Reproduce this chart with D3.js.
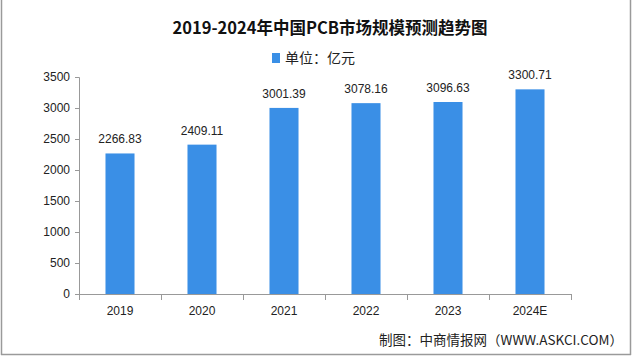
<!DOCTYPE html>
<html>
<head>
<meta charset="utf-8">
<script src="https://cdn.jsdelivr.net/npm/d3@7/dist/d3.min.js"></script>
<style>
  html, body { margin: 0; padding: 0; background: #fff; }
  svg { display: block; }
</style>
</head>
<body>
<svg id="chart" width="640" height="357"></svg>
<script>
const categories = ["2019", "2020", "2021", "2022", "2023", "2024E"];
const values = [2266.83, 2409.11, 3001.39, 3078.16, 3096.63, 3300.71];
const yTicks = [0, 500, 1000, 1500, 2000, 2500, 3000, 3500];
const titleText = "2019-2024年中国PCB市场规模预测趋势图";
const legendText = "单位：亿元";
const sourceText = "制图：中商情报网（WWW.ASKCI.COM）";

const svg = d3.select("#chart");
const barColor = "#3a8fe6";
const axisColor = "#999";
const cjk = "'Noto Sans CJK SC', 'Noto Sans', sans-serif";
const latin = "'Liberation Sans', Arial, sans-serif";

const plotL = 79, plotR = 571, plotT = 77, plotB = 294;

const x = d3.scaleBand().domain(categories).range([plotL, plotR]).padding(0);
const y = d3.scaleLinear().domain([0, 3500]).range([plotB, plotT]);
const barW = x.bandwidth() * 0.354;

// frame
svg.append("line").attr("x1", 1.5).attr("x2", 1.5).attr("y1", 0).attr("y2", 355)
  .attr("stroke", "#9a9a9a").attr("stroke-width", 1.5);
svg.append("line").attr("x1", 630.5).attr("x2", 630.5).attr("y1", 0).attr("y2", 355)
  .attr("stroke", "#9a9a9a").attr("stroke-width", 1.5);
svg.append("line").attr("x1", 1).attr("x2", 631).attr("y1", 354.5).attr("y2", 354.5)
  .attr("stroke", "#9a9a9a").attr("stroke-width", 1.5);

// title
svg.append("text").attr("x", 330).attr("y", 34).attr("text-anchor", "middle")
  .attr("font-family", cjk).attr("font-weight", "bold").attr("font-size", 16.5)
  .attr("fill", "#111").text(titleText);

// legend
svg.append("rect").attr("x", 272).attr("y", 53).attr("width", 8).attr("height", 10)
  .attr("fill", barColor);
svg.append("text").attr("x", 285).attr("y", 63).attr("font-family", cjk)
  .attr("font-size", 14).attr("fill", "#222").text(legendText);

// bars
svg.append("g").selectAll("rect").data(values).join("rect")
  .attr("x", (d, i) => x(categories[i]) + (x.bandwidth() - barW) / 2)
  .attr("y", d => y(d))
  .attr("width", barW)
  .attr("height", d => y(0) - y(d))
  .attr("fill", barColor);

// value labels
svg.append("g").selectAll("text").data(values).join("text")
  .attr("x", (d, i) => x(categories[i]) + x.bandwidth() / 2)
  .attr("y", d => y(d) - 10)
  .attr("text-anchor", "middle")
  .attr("font-family", latin).attr("font-size", 12).attr("fill", "#222")
  .text(d => d.toFixed(2));

// y axis
const yAxis = svg.append("g").attr("transform", `translate(${plotL},0)`)
  .call(d3.axisLeft(y).tickValues(yTicks).tickSize(4).tickPadding(5).tickFormat(d3.format("d")));
yAxis.select(".domain").attr("stroke", axisColor);
yAxis.selectAll(".tick line").attr("stroke", axisColor);
yAxis.selectAll(".tick text").attr("font-family", latin).attr("font-size", 12).attr("fill", "#222");

// x axis
const xAxis = svg.append("g").attr("transform", `translate(0,${plotB})`)
  .call(d3.axisBottom(x).tickSize(0).tickPadding(12).tickSizeOuter(0));
xAxis.select(".domain").attr("stroke", axisColor);
xAxis.selectAll(".tick text").attr("font-family", latin).attr("font-size", 12).attr("fill", "#222");
// boundary ticks
const bounds = categories.map(c => x(c)).concat([x(categories[categories.length - 1]) + x.bandwidth()]);
svg.append("g").selectAll("line").data(bounds).join("line")
  .attr("x1", d => d + 0.5).attr("x2", d => d + 0.5)
  .attr("y1", plotB).attr("y2", plotB + 6)
  .attr("stroke", axisColor);

// source
svg.append("text").attr("x", 623).attr("y", 345).attr("text-anchor", "end")
  .attr("font-family", cjk).attr("font-size", 13.5).attr("fill", "#222").text(sourceText);
</script>
</body>
</html>
